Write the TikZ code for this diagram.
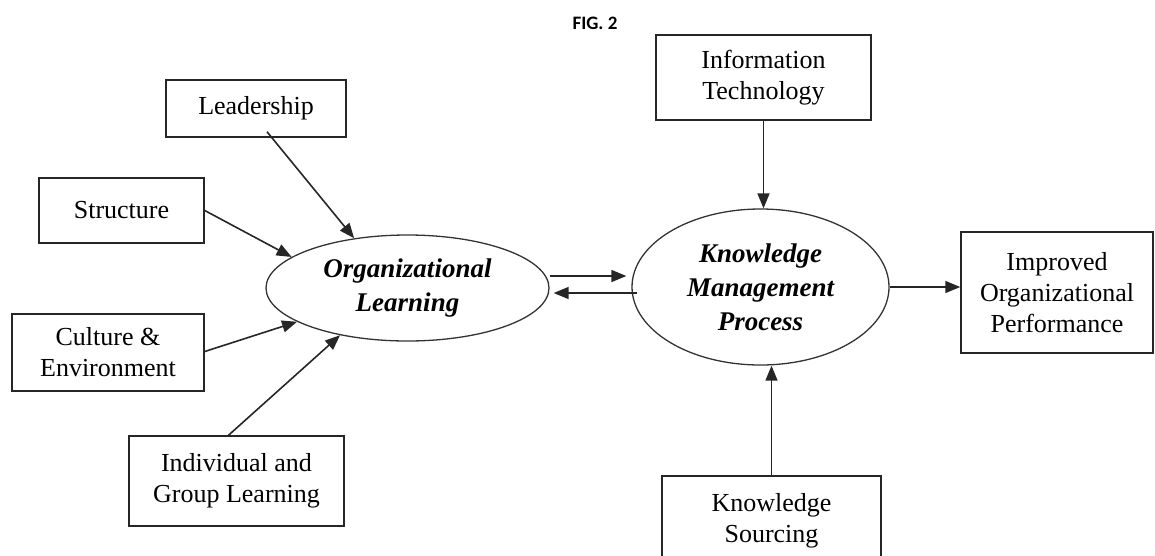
\documentclass[tikz,border=0pt]{standalone}
\usepackage{fontspec}
\setmainfont{Liberation Serif}
\newfontfamily\figfont{Carlito}
\usetikzlibrary{shapes.geometric,arrows.meta}
\begin{document}
\begin{tikzpicture}[x=1pt,y=-1pt,
  box/.style={draw=black!85,line width=1.5pt,rectangle,inner sep=0pt,align=center,
    font=\fontsize{26}{31}\selectfont},
  oval/.style={draw=black!80,line width=1.3pt,ellipse,inner sep=0pt,align=center,
    font=\fontsize{27}{34}\selectfont\bfseries\itshape},
  arr/.style={draw=black!85,line width=1.6pt,-{Triangle[length=15pt,width=12pt]}}]
\useasboundingbox (0,0) rectangle (1155,555);
\clip (0,0) rectangle (1155,555);

% caption
\node[font=\figfont\bfseries\fontsize{19}{23}\selectfont] (fig) at (595,23) {FIG. 2};

% the two central processes
\node[oval,minimum width=283pt,minimum height=106pt] (ol) at (407.5,288) {Organizational\\Learning};
\node[oval,minimum width=257pt,minimum height=156pt] (km) at (760.5,287) {Knowledge\\Management\\Process};

% influencing factors and outcome
\node[box,minimum width=215pt,minimum height=85pt] (it) at (763.5,77.5) {Information\\Technology};
\node[box,minimum width=180pt,minimum height=57pt] (lead) at (256,108.5) {Leadership};
\node[box,minimum width=165pt,minimum height=65pt] (str) at (121.5,210.5) {Structure};
\node[box,minimum width=192pt,minimum height=77pt] (cul) at (108,352.5) {Culture \&\\Environment};
\node[box,minimum width=215pt,minimum height=90pt] (ind) at (236.5,481) {Individual and\\Group Learning};
\node[box,minimum width=219pt,minimum height=90pt] (ks) at (771.5,521) {Knowledge\\Sourcing};
\node[box,minimum width=192pt,minimum height=121pt] (ip) at (1057,292.5) {Improved\\Organizational\\Performance};

% connectors
\draw[arr] ([xshift=11pt,yshift=6pt]lead.south) -- (ol.137);
\draw[arr] (str.east) -- (ol.165);
\draw[arr] ([yshift=1pt]cul.east) -- (ol.197);
\draw[arr] ([xshift=-8pt]ind.north) -- (ol.215);
\draw[arr] (it.south) -- (it.south |- km.north);
\draw[arr] (ks.north) -- (ks.north |- km.south);
\draw[arr,shorten >=5pt] ([yshift=12pt]ol.east) -- ([yshift=12pt]ol.east -| km.west);
\draw[arr,shorten >=4pt] ([xshift=6pt,yshift=-6pt]km.west) -- ([yshift=-6pt]km.west -| ol.east);
\draw[arr] (km.east) -- (km.east -| ip.west);
\end{tikzpicture}
\end{document}
